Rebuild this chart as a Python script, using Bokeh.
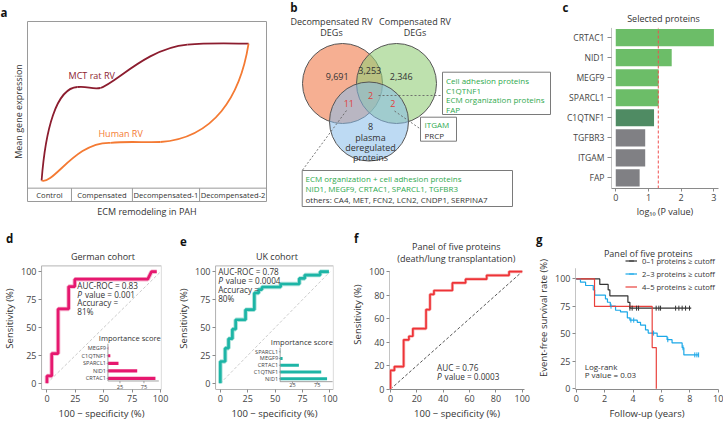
import numpy as np
from bokeh.plotting import figure
from bokeh.models import (Range1d, Span, Legend, LegendItem, FixedTicker, Title)
from bokeh.layouts import row, column
from bokeh.embed import file_html
from bokeh.resources import INLINE
from bokeh.core.properties import value

FONT = "Open Sans"
INK = "#333333"
GREY = "#8a8a8a"
TICKC = "#444444"

# ---------------- data ----------------
stages = ["Control", "Compensated", "Decompensated-1", "Decompensated-2"]
stage_edges = [0, 18.4, 43.9, 72.0, 100]
mct_x0 = [5.9, 20.9, 30.5, 66.9]
mct_y0 = [4.6, 60.7, 60.1, 86.1]
mct_x1 = [20.9, 30.5, 66.9, 92.5]
mct_y1 = [60.7, 60.1, 86.1, 86.7]
mct_cx0 = [7.5, 25.0, 37.0, 76.0]
mct_cy0 = [35.0, 61.5, 63.0, 87.3]
mct_cx1 = [12.0, 27.0, 50.0, 85.0]
mct_cy1 = [60.0, 59.0, 84.0, 86.8]
hum_x0 = [5.9, 34.7, 55.6]
hum_y0 = [4.6, 27.2, 27.7]
hum_x1 = [34.7, 55.6, 92.5]
hum_y1 = [27.2, 27.7, 86.7]
hum_cx0 = [11.0, 42.0, 78.0]
hum_cy0 = [2.0, 28.3, 30.0]
hum_cx1 = [20.0, 49.0, 89.0]
hum_cy1 = [28.0, 27.3, 55.0]

venn_counts = ["9,691", "3,253", "2,346"]
venn_protein_counts = ["2", "11", "2"]
plasma_only = "8"
box_green_1 = ["Cell adhesion proteins", "C1QTNF1", "ECM organization proteins", "FAP"]
box2_lines = ["ITGAM", "PRCP"]
box3_lines = ["ECM organization + cell adhesion proteins",
              "NID1, MEGF9, CRTAC1, SPARCL1, TGFBR3",
              "others: CA4, MET, FCN2, LCN2, CNDP1, SERPINA7"]

proteins = ["CRTAC1", "NID1", "MEGF9", "SPARCL1", "C1QTNF1", "TGFBR3", "ITGAM", "FAP"]
neglogp = [3.0, 1.71, 1.31, 1.31, 1.17, 0.90, 0.90, 0.73]
bar_colors = ["#6cbd68", "#6cbd68", "#6cbd68", "#6cbd68", "#4f8b63",
              "#808084", "#808084", "#808084"]
p_cut = 1.3

ger_fpr = [0, 0, 4.2, 4.2, 9.8, 9.8, 19.1, 19.1, 24.5, 24.5, 88.7, 92, 96.6]
ger_tpr = [0, 6.7, 6.7, 26.7, 26.7, 66.7, 66.7, 86.7, 86.7, 93.3, 93.3, 100, 100]
ger_imp_names = ["CRTAC1", "NID1", "SPARCL1", "C1QTNF1", "MEGF9"]
ger_imp_vals = [99, 61, 22, 5, 0.8]

uk_fpr = [0, 0, 4.4, 4.4, 7.5, 7.5, 11, 11, 14, 14, 23, 23, 31, 31, 35, 35, 38, 38,
          55, 55, 72, 72, 77, 77, 91, 91, 99]
uk_tpr = [0, 19.6, 19.6, 31.5, 31.5, 40, 40, 48.5, 48.5, 57, 57, 66, 66, 81, 81, 84,
          84, 86.3, 86.3, 89, 89, 94, 94, 97, 97, 100, 100]
uk_imp_names = ["NID1", "C1QTNF1", "CRTAC1", "MEGF9", "SPARCL1"]
uk_imp_vals = [94.8, 83, 37.9, 5, 0.6]

f_fpr = [0, 0, 3, 3, 10, 10, 14, 14, 17, 17, 27, 27, 30, 30, 33, 33, 47, 47, 57, 57,
         73, 73, 90, 90, 100]
f_tpr = [0, 16, 16, 19.2, 19.2, 42, 42, 45, 45, 51.5, 51.5, 67.7, 67.7, 80.6, 80.6,
         83.9, 83.9, 90.3, 90.3, 93.5, 93.5, 96.8, 96.8, 100, 100]

km01_t = [0, 1.66, 2.25, 2.37, 3.64, 3.78]
km01_s = [100, 95, 90, 84.6, 78.7, 73.4]
km01_end = 8.1
km01_cens_t = [3.78, 3.94, 4.25, 4.39, 5.63, 5.82, 5.94, 7.0, 7.23, 7.46, 7.7, 7.98]
km01_cens_s = [73.4, 73.4, 73.4, 73.4, 73.4, 73.4, 73.4, 73.4, 73.4, 73.4, 73.4, 73.4]
km23_t = [0, 0.3, 0.66, 1.2, 1.3, 2.06, 2.2, 2.4, 2.77, 3.12, 3.6, 3.78, 4.3, 4.53,
          4.88, 5.07, 5.7, 6.4, 6.75, 7.46, 7.58]
km23_s = [100, 97, 94, 90, 85.2, 81.8, 78.8, 75.2, 71.5, 70, 64.6, 62.5, 60.5, 58,
          53.6, 50.7, 47.7, 44.7, 41.8, 37.4, 30.9]
km23_end = 8.64
km23_cens_t = [2.45, 3.85, 4.05, 5.45, 6.45, 7.52, 8.35, 8.5, 8.62]
km23_cens_s = [75.2, 62.5, 62.5, 50.7, 44.7, 37.4, 30.9, 30.9, 30.9]
km45_t = [0, 1.29, 5.35, 5.64]
km45_s = [100, 75, 37.5, 0]
km45_end = 5.64


# ---------------- helpers ----------------
def base_fig(w, h, l, r, t, b, xr, yr, axes=True):
    kw = {} if axes else dict(x_axis_type=None, y_axis_type=None)
    p = figure(width=w, height=h, x_range=xr, y_range=yr, output_backend="svg",
               toolbar_location=None, min_border_left=l, min_border_right=r,
               min_border_top=t, min_border_bottom=b, title_location=None,
               frame_align=False, **kw)
    p.xgrid.visible = False
    p.ygrid.visible = False
    p.outline_line_color = None
    p.background_fill_color = "white"
    p.border_fill_color = "white"
    return p


def style_axis(ax, label_size="9px", title_size="9.5px"):
    ax.axis_line_color = GREY
    ax.major_tick_line_color = GREY
    ax.minor_tick_line_color = None
    ax.major_tick_out = 3
    ax.major_tick_in = 0
    ax.major_label_standoff = 2
    ax.major_label_text_font = FONT
    ax.major_label_text_font_size = label_size
    ax.major_label_text_color = TICKC
    ax.axis_label_text_font = FONT
    ax.axis_label_text_font_size = title_size
    ax.axis_label_text_font_style = "normal"
    ax.axis_label_text_color = INK
    ax.axis_label_standoff = 2


def letter(p, text, standoff, offset):
    p.add_layout(Title(text=text, text_font=FONT, text_font_size="11.5px",
                       text_font_style="bold", text_color="#111111", align="left",
                       offset=offset, standoff=standoff), "above")


def add_lay(p, fw, fh):
    # frame-pixel coordinates for layout texts (titles)
    p.extra_x_ranges["lay"] = Range1d(0, fw)
    p.extra_y_ranges["lay"] = Range1d(fh, 0)


def txt(p, x, y, text, size="8.2px", color=INK, align="left", style="normal",
        x_offset=0, **kw):
    p.text(x=x, y=y, text=text, text_font=value(FONT), text_font_size=size,
           text_color=color, text_align=align, text_baseline="middle",
           text_font_style=style, x_offset=x_offset, **kw)


def p_value_txt(p, x, y, rest):
    # italic "P" followed by the rest of the statement
    txt(p, [x], [y], ["P"], style="italic")
    txt(p, [x], [y], [rest], x_offset=7.6)


def lay_txt(p, x, y, text, size="9px"):
    txt(p, x, y, text, size=size, align="center", x_range_name="lay",
        y_range_name="lay")


def y_axis_line(p, y1):
    p.yaxis.axis_line_color = None
    p.segment(x0=[p.x_range.start], x1=[p.x_range.start], y0=[p.y_range.start],
              y1=[y1], line_color=GREY, line_width=1)


def km_path(t, s, t_end):
    xs, ys = [t[0]], [s[0]]
    for i in range(1, len(t)):
        xs += [t[i], t[i]]
        ys += [s[i - 1], s[i]]
    xs.append(t_end)
    ys.append(s[-1])
    return xs, ys


# ---------------- panel a ----------------
pa = base_fig(274, 220, 27, 8, 19, 15, Range1d(0, 100), Range1d(-8, 100))
pa.outline_line_color = "#9a9a9a"
for ax in (pa.xaxis, pa.yaxis):
    ax.ticker = FixedTicker(ticks=[])
    ax.axis_line_color = None
    ax.major_tick_line_color = None
    ax.minor_tick_line_color = None
    ax.major_tick_out = 0
    ax.major_label_standoff = 0
    ax.axis_label_text_font = FONT
    ax.axis_label_text_font_size = "9px"
    ax.axis_label_text_font_style = "normal"
    ax.axis_label_text_color = INK
    ax.axis_label_standoff = 3
pa.xaxis.axis_label = "ECM remodeling in PAH"
pa.yaxis.axis_label = "Mean gene expression"
pa.add_layout(Span(location=0, dimension="width", line_color="#9a9a9a", line_width=1))
inner = stage_edges[1:-1]
pa.segment(x0=inner, x1=inner, y0=pa.y_range.start, y1=0, line_color="#9a9a9a", line_width=1)
mids = list((np.array(stage_edges[:-1]) + np.array(stage_edges[1:])) / 2)
txt(pa, mids, [pa.y_range.start / 2] * 4, stages, size="7.6px", align="center")
MCT_C = "#8c1d2f"
HUM_C = "#f47a33"
pa.bezier(x0=mct_x0, y0=mct_y0, x1=mct_x1, y1=mct_y1, cx0=mct_cx0, cy0=mct_cy0,
          cx1=mct_cx1, cy1=mct_cy1, line_color=MCT_C, line_width=1.8)
pa.bezier(x0=hum_x0, y0=hum_y0, x1=hum_x1, y1=hum_y1, cx0=hum_cx0, cy0=hum_cy0,
          cx1=hum_cx1, cy1=hum_cy1, line_color=HUM_C, line_width=1.8)
txt(pa, [17.2], [67.6], ["MCT rat RV"], size="9px", color=MCT_C)
txt(pa, [29.7], [33.0], ["Human RV"], size="9px", color=HUM_C)
letter(pa, "a", 4, -27)

# ---------------- panel b (Venn) ----------------
pb = base_fig(280, 220, 0, 0, 0, 0, Range1d(274, 554), Range1d(220, 0), axes=False)
pb.circle(x=[342, 396, 368.5], y=[83, 83, 121], radius=[40, 40, 39.5],
          fill_color=["#f07a4a", "#93cd78", "#86bce9"], fill_alpha=[0.6, 0.6, 0.55],
          line_color="#555555", line_width=1)
txt(pb, [331, 331, 414.5, 414.5], [21, 32.3, 21, 32.3],
    ["Decompensated RV", "DEGs", "Compensated RV", "DEGs"], size="9px", align="center")
txt(pb, [336.7, 369.3, 400.7], [76, 70, 76], venn_counts, size="9px", align="center")
txt(pb, [370, 348.3, 392.3], [95, 103, 103], venn_protein_counts, size="9px",
    color="#e0403c", align="center")
txt(pb, [370, 370, 370, 370], [126, 136.7, 147, 157.3],
    [plasma_only, "plasma", "deregulated", "proteins"], size="9px", align="center")
pb.quad(left=[442, 420, 301.7], right=[550, 456, 512], top=[71.7, 116.7, 170],
        bottom=[114, 140.7, 206], fill_color="white", line_color="#7a7a7a", line_width=1)
GREEN_T = "#2fa94e"
txt(pb, [445.5] * 4, [80, 89.7, 99.2, 108.7], box_green_1, size="8px", color=GREEN_T)
txt(pb, [424, 424], [124, 135], box2_lines, size="8px", color=[GREEN_T, INK])
txt(pb, [305, 305, 305], [178.3, 188.3, 198.6], box3_lines, size="8px",
    color=[GREEN_T, GREEN_T, INK])
pb.segment(x0=[378, 394, 346], y0=[95, 110.5, 110], x1=[442, 420, 301.7],
           y1=[95, 128.5, 170], line_color="#666666", line_width=0.9, line_dash="2 2")
txt(pb, [293.3], [6.5], ["b"], size="11.5px", color="#111111", align="center", style="bold")

# ---------------- panel c ----------------
prot_idx = list(range(len(proteins) - 1, -1, -1))   # CRTAC1 on top
pc = base_fig(169, 220, 57, 5, 11, 27, Range1d(-0.13, 3.14), Range1d(-0.535, 8.31))
pc.hbar(y=prot_idx, left=0, right=neglogp, height=0.86, fill_color=bar_colors,
        line_color=None)
pc.segment(x0=[p_cut], x1=[p_cut], y0=[pc.y_range.start], y1=[7.49],
           line_color="#f0504f", line_width=1, line_dash="3 2")
style_axis(pc.xaxis)
style_axis(pc.yaxis, label_size="8.6px")
y_axis_line(pc, 7.49)
pc.xaxis.ticker = [0, 1, 2, 3]
pc.yaxis.ticker = FixedTicker(ticks=prot_idx)
pc.yaxis.major_label_overrides = {i: n for i, n in zip(prot_idx, proteins)}
pc.yaxis.major_tick_out = 4
pc.yaxis.major_label_standoff = 3
pc.xaxis.axis_label_standoff = 1
pc.xaxis.axis_label_text_font_size = "9px"
pc.xaxis.axis_label = "log₁₀ (P value)"
add_lay(pc, 107, 182)
lay_txt(pc, [52], [7], ["Selected proteins"])
letter(pc, "c", -7, -49)

PINK = "#e6186f"
TEAL = "#1db5a6"


def roc_fig(w, l, r, fw, xr, yr, fpr, tpr, color, pale, top_val):
    p = base_fig(w, 202, l, r, 27, 30, xr, yr)
    style_axis(p.xaxis)
    style_axis(p.yaxis)
    p.xaxis.axis_line_color = None
    p.yaxis.axis_line_color = None
    p.quad(left=[xr.start], right=[xr.end], bottom=[yr.start], top=[top_val],
           fill_color=None, line_color="#c4c4c4", line_width=1.2)
    p.segment(x0=[xr.start, xr.start], x1=[xr.start, xr.end], y0=[yr.start, yr.start],
              y1=[top_val, yr.start], line_color=GREY, line_width=1)
    p.xaxis.ticker = [0, 25, 50, 75, 100]
    p.yaxis.ticker = [0, 25, 50, 75, 100]
    p.xaxis.axis_label = "100 − specificity (%)"
    p.yaxis.axis_label = "Sensitivity (%)"
    p.line([0, 100], [0, 100], line_color="#cccccc", line_dash="3 2", line_width=1)
    p.line(fpr, tpr, line_color=pale, line_width=4.5)
    p.line(fpr, tpr, line_color=color, line_width=2.7)
    add_lay(p, fw, 145)
    return p


def inset(p, xr, yr, names, vals, color, title_v, title_i, axis_i, tick_i):
    p.extra_x_ranges["imp"] = xr
    p.extra_y_ranges["imp"] = yr
    idx = list(range(len(names)))
    kw = dict(x_range_name="imp", y_range_name="imp")
    p.hbar(y=idx, left=0, right=vals, height=0.42, fill_color=color, line_color=None, **kw)
    p.segment(x0=[0, 0], y0=[axis_i, axis_i], x1=[0, 106], y1=[4.6, axis_i],
              line_color=GREY, line_width=0.8, **kw)
    ticks = [25, 75]
    p.segment(x0=ticks, x1=ticks, y0=axis_i, y1=axis_i - 0.3, line_color=GREY,
              line_width=0.8, **kw)
    txt(p, ticks, [tick_i, tick_i], ["25", "75"], size="5.6px", align="center",
        color=TICKC, **kw)
    p.segment(x0=-2.5, x1=0, y0=idx, y1=idx, line_color=GREY, line_width=0.8, **kw)
    txt(p, [-4] * len(names), idx, names, size="5.6px", align="right", color=TICKC, **kw)
    txt(p, [title_v], [title_i], ["Importance score"], size="7.6px", align="center", **kw)


# ---------------- panel d ----------------
pd_ = roc_fig(174, 36, 13, 125, Range1d(-4.8, 100.8), Range1d(-5.5, 121.7),
              ger_fpr, ger_tpr, PINK, "#f6b6cf", 105.3)
inset(pd_, Range1d(-138.4, 111.6), Range1d(-1.47, 17.36), ger_imp_names, ger_imp_vals,
      PINK, 45.6, 5.4, -0.34, -1.08)
txt(pd_, [26.7], [87.5], ["AUC-ROC = 0.83"])
p_value_txt(pd_, 26.7, 79.9, "value = 0.001")
txt(pd_, [26.7, 26.7], [72.3, 64.0], ["Accuracy =", "81%"])
lay_txt(pd_, [64], [9.7], ["German cohort"])
letter(pd_, "d", 3, -35.5)

# ---------------- panel e ----------------
pe = roc_fig(174, 36, 15, 123, Range1d(-4.4, 103.2), Range1d(-5.5, 121.7),
             uk_fpr, uk_tpr, TEAL, "#a9e2da", 105.3)
inset(pe, Range1d(-130.5, 107.8), Range1d(-1.59, 19.42), uk_imp_names, uk_imp_vals,
      TEAL, 44, 5.4, -0.43, -0.95)
txt(pe, [-2], [100], ["AUC-ROC = 0.78"])
p_value_txt(pe, -2, 91.8, "value = 0.0004")
txt(pe, [-2, -2], [83.7, 75.8], ["Accuracy =", "80%"])
lay_txt(pe, [64], [9], ["UK cohort"])
letter(pe, "e", 3, -35.5)

# ---------------- panel f ----------------
RED = "#ee3337"
pf = base_fig(186, 202, 36, 10, 19, 30, Range1d(-0.73, 101.7), Range1d(-0.25, 127.25))
style_axis(pf.xaxis)
style_axis(pf.yaxis)
y_axis_line(pf, 100.5)
pf.xaxis.ticker = [0, 20, 40, 60, 80, 100]
pf.yaxis.ticker = [0, 20, 40, 60, 80, 100]
pf.xaxis.axis_label = "100 − specificity (%)"
pf.yaxis.axis_label = "Sensitivity (%)"
pf.line([0, 100], [0, 100], line_color="#555555", line_dash="3 2", line_width=1)
pf.line(f_fpr, f_tpr, line_color="#f7b8b8", line_width=3.2)
pf.line(f_fpr, f_tpr, line_color=RED, line_width=1.7)
txt(pf, [35.3], [18.7], ["AUC = 0.76"])
p_value_txt(pf, 35.3, 10.8, "value = 0.0003")
add_lay(pf, 140, 153)
lay_txt(pf, [69.3, 69.3], [7, 19], ["Panel of five proteins", "(death/lung transplantation)"])
letter(pf, "f", -13, -35.5)

# ---------------- panel g ----------------
pg = base_fig(189, 202, 41, 5, 26, 29, Range1d(-0.05, 10.02), Range1d(-0.6, 129.5))
style_axis(pg.xaxis)
style_axis(pg.yaxis)
y_axis_line(pg, 109.7)
pg.xaxis.ticker = [0, 2, 4, 6, 8, 10]
pg.yaxis.ticker = [0, 25, 50, 75, 100]
pg.xaxis.axis_label = "Follow-up (years)"
pg.yaxis.axis_label = "Event-free survival rate (%)"
C01, C23, C45 = "#333333", "#1ba8e8", "#e9413c"
x, y = km_path(km01_t, km01_s, km01_end)
l01 = pg.line(x, y, line_color=C01, line_width=1.2)
x, y = km_path(km23_t, km23_s, km23_end)
l23 = pg.line(x, y, line_color=C23, line_width=1.2)
x, y = km_path(km45_t, km45_s, km45_end)
l45 = pg.line(x, y, line_color=C45, line_width=1.2)
m01 = pg.scatter(km01_cens_t, km01_cens_s, marker="dash", angle=np.pi / 2, size=5,
                 line_color=C01, line_width=1)
m23 = pg.scatter(km23_cens_t, km23_cens_s, marker="dash", angle=np.pi / 2, size=5,
                 line_color=C23, line_width=1)
m45 = pg.scatter(x=[], y=[], marker="dash", angle=np.pi / 2, size=5,
                 line_color=C45, line_width=1)
legend = Legend(items=[LegendItem(label="0–1 proteins ≥ cutoff", renderers=[l01, m01]),
                       LegendItem(label="2–3 proteins ≥ cutoff", renderers=[l23, m23]),
                       LegendItem(label="4–5 proteins ≥ cutoff", renderers=[l45, m45])],
                location=(50, 96), border_line_color=None, background_fill_alpha=0,
                padding=0, margin=0, spacing=0, glyph_width=12, glyph_height=13,
                label_height=13, label_standoff=5, label_text_font=FONT,
                label_text_font_size="7.6px", label_text_color=INK)
pg.add_layout(legend)
txt(pg, [0.6, 0.6], [20.4, 13.5], ["Log-rank", "P value = 0.03"], size="8px")
add_lay(pg, 143, 147)
lay_txt(pg, [72.7], [7], ["Panel of five proteins"])
letter(pg, "g", -0.4, -39.5)

layout = column(row(pa, pb, pc), row(pd_, pe, pf, pg))
open("out.html", "w").write(file_html(layout, INLINE))
